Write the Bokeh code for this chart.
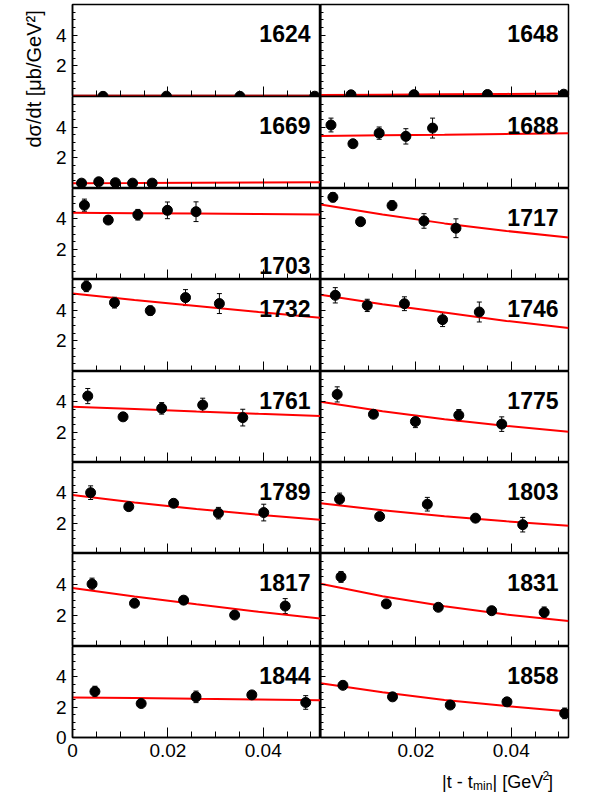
from bokeh.plotting import figure
from bokeh.layouts import row, column
from bokeh.models import (Range1d, FixedTicker, Whisker, TeeHead, ColumnDataSource,
                          Label, LinearAxis)
from bokeh.embed import file_html
from bokeh.resources import INLINE

# ---------------- data ----------------
energies_left = [1624, 1669, 1703, 1732, 1761, 1789, 1817, 1844]
energies_right = [1648, 1688, 1717, 1746, 1775, 1803, 1831, 1858]

fit_t = [0.0, 0.013, 0.026, 0.039, 0.052]

t_1624 = [0.0064, 0.0197, 0.0351, 0.0508]
y_1624 = [0.01, 0.02, 0.01, 0.02]
e_1624 = [0.02, 0.02, 0.02, 0.02]
fit_1624 = [0.05, 0.05, 0.05, 0.05, 0.05]

t_1648 = [0.0064, 0.0196, 0.0350, 0.0510]
y_1648 = [0.11, 0.12, 0.13, 0.15]
e_1648 = [0.02, 0.02, 0.02, 0.02]
fit_1648 = [0.10, 0.12, 0.15, 0.17, 0.20]

t_1669 = [0.0019, 0.0055, 0.0090, 0.0126, 0.0167]
y_1669 = [0.35, 0.44, 0.38, 0.35, 0.35]
e_1669 = [0.05, 0.05, 0.05, 0.05, 0.05]
fit_1669 = [0.35, 0.36, 0.38, 0.39, 0.41]

t_1688 = [0.0022, 0.0068, 0.0123, 0.0179, 0.0235]
y_1688 = [4.14, 2.92, 3.61, 3.40, 3.94]
e_1688 = [0.45, 0.20, 0.40, 0.50, 0.65]
fit_1688 = [3.42, 3.47, 3.51, 3.56, 3.61]

t_1703 = [0.0025, 0.0075, 0.0137, 0.0199, 0.0259]
y_1703 = [4.90, 3.92, 4.27, 4.56, 4.47]
e_1703 = [0.40, 0.25, 0.35, 0.55, 0.65]
fit_1703 = [4.40, 4.37, 4.35, 4.32, 4.29]

t_1717 = [0.0026, 0.0084, 0.0150, 0.0217, 0.0284]
y_1717 = [5.42, 3.81, 4.88, 3.86, 3.38]
e_1717 = [0.30, 0.25, 0.30, 0.48, 0.62]
fit_1717 = [4.95, 4.28, 3.70, 3.20, 2.77]

t_1732 = [0.0029, 0.0088, 0.0163, 0.0237, 0.0308]
y_1732 = [5.56, 4.49, 3.97, 4.82, 4.43]
e_1732 = [0.35, 0.35, 0.30, 0.52, 0.65]
fit_1732 = [5.08, 4.66, 4.27, 3.88, 3.51]

t_1746 = [0.0031, 0.0098, 0.0176, 0.0256, 0.0333]
y_1746 = [4.97, 4.31, 4.42, 3.38, 3.88]
e_1746 = [0.50, 0.40, 0.45, 0.45, 0.65]
fit_1746 = [5.01, 4.38, 3.85, 3.30, 2.83]

t_1761 = [0.0032, 0.0106, 0.0187, 0.0273, 0.0357]
y_1761 = [4.38, 3.01, 3.57, 3.79, 2.96]
e_1761 = [0.50, 0.20, 0.38, 0.45, 0.55]
fit_1761 = [3.68, 3.52, 3.36, 3.21, 3.07]

t_1775 = [0.0035, 0.0111, 0.0199, 0.0290, 0.0380]
y_1775 = [4.49, 3.18, 2.70, 3.12, 2.53]
e_1775 = [0.50, 0.20, 0.40, 0.37, 0.48]
fit_1775 = [4.01, 3.38, 2.85, 2.41, 2.03]

t_1789 = [0.0038, 0.0118, 0.0212, 0.0306, 0.0401]
y_1789 = [4.01, 3.09, 3.31, 2.66, 2.70]
e_1789 = [0.45, 0.20, 0.22, 0.38, 0.55]
fit_1789 = [3.86, 3.36, 2.93, 2.55, 2.22]

t_1803 = [0.0040, 0.0124, 0.0224, 0.0325, 0.0424]
y_1803 = [3.58, 2.44, 3.25, 2.33, 1.90]
e_1803 = [0.40, 0.20, 0.45, 0.20, 0.48]
fit_1803 = [3.31, 2.85, 2.46, 2.12, 1.83]

t_1817 = [0.0041, 0.0130, 0.0233, 0.0340, 0.0446]
y_1817 = [4.03, 2.79, 2.99, 2.03, 2.61]
e_1817 = [0.38, 0.20, 0.25, 0.20, 0.48]
fit_1817 = [3.77, 3.22, 2.72, 2.24, 1.81]

t_1831 = [0.0043, 0.0138, 0.0247, 0.0359, 0.0469]
y_1831 = [4.49, 2.75, 2.53, 2.31, 2.20]
e_1831 = [0.35, 0.20, 0.20, 0.20, 0.35]
fit_1831 = [4.05, 3.24, 2.59, 2.06, 1.65]

t_1844 = [0.0047, 0.0144, 0.0259, 0.0376, 0.0489]
y_1844 = [3.03, 2.24, 2.68, 2.81, 2.31]
e_1844 = [0.35, 0.20, 0.38, 0.20, 0.45]
fit_1844 = [2.64, 2.60, 2.55, 2.51, 2.46]

t_1858 = [0.0047, 0.0151, 0.0272, 0.0391, 0.0512]
y_1858 = [3.44, 2.68, 2.14, 2.35, 1.59]
e_1858 = [0.20, 0.20, 0.20, 0.20, 0.35]
fit_1858 = [3.58, 2.98, 2.48, 2.07, 1.72]

x_major_left = [0.0, 0.02, 0.04]
x_major_right = [0.02, 0.04]
x_minor = [0.005, 0.01, 0.015, 0.025, 0.03, 0.035, 0.045, 0.05]
y_major_bottom = [0.0, 2.0, 4.0]
y_major = [2.0, 4.0]
y_minor = [0.5, 1.0, 1.5, 2.5, 3.0, 3.5, 4.5, 5.0, 5.5]

y_title = "dσ/dt [μb/GeV²]"
x_title_parts = ["|t - t", "min", "| [GeV", "2", "]"]

panel_data = {
    1624: (t_1624, y_1624, e_1624, fit_1624), 1648: (t_1648, y_1648, e_1648, fit_1648),
    1669: (t_1669, y_1669, e_1669, fit_1669), 1688: (t_1688, y_1688, e_1688, fit_1688),
    1703: (t_1703, y_1703, e_1703, fit_1703), 1717: (t_1717, y_1717, e_1717, fit_1717),
    1732: (t_1732, y_1732, e_1732, fit_1732), 1746: (t_1746, y_1746, e_1746, fit_1746),
    1761: (t_1761, y_1761, e_1761, fit_1761), 1775: (t_1775, y_1775, e_1775, fit_1775),
    1789: (t_1789, y_1789, e_1789, fit_1789), 1803: (t_1803, y_1803, e_1803, fit_1803),
    1817: (t_1817, y_1817, e_1817, fit_1817), 1831: (t_1831, y_1831, e_1831, fit_1831),
    1844: (t_1844, y_1844, e_1844, fit_1844), 1858: (t_1858, y_1858, e_1858, fit_1858),
}

# ---------------- layout constants (pixels) ----------------
FONT = "Liberation Sans"
TITLE_W = 46
FRAME_W = 248
LEFT_B = 26
RIGHT_B = 29
TOP_B = 4
BOTTOM_B = 24
FRAME_HS = [92, 92, 91, 92, 91, 91, 93, 91]
GRID_H = TOP_B + sum(FRAME_HS) + BOTTOM_B
XT_H = 31
TOTAL_W = TITLE_W + LEFT_B + 2 * FRAME_W + RIGHT_B


def tick_only_axis(p, side, positions, length):
    ax = LinearAxis(ticker=FixedTicker(ticks=[], minor_ticks=positions),
                    axis_line_color="black", axis_line_width=1.5,
                    minor_tick_in=length, minor_tick_out=0,
                    major_tick_in=0, major_tick_out=0,
                    minor_tick_line_color="black", major_label_standoff=0)
    p.add_layout(ax, side)
    return ax


def make_panel(energy, left, top, bottom, frame_h):
    t, y, err, fit = panel_data[energy]
    bl = LEFT_B if left else 0
    br = 0 if left else RIGHT_B
    bb = BOTTOM_B if bottom else 0
    bt = TOP_B if top else 0
    p = figure(width=FRAME_W + bl + br, height=frame_h + bb + bt,
               x_range=Range1d(0, 0.052), y_range=Range1d(0, 6),
               output_backend="svg", toolbar_location=None,
               x_axis_location=None, y_axis_location=None,
               min_border_left=bl, min_border_right=br,
               min_border_top=bt, min_border_bottom=bb)
    p.grid.visible = False
    p.background_fill_color = "white"
    p.border_fill_color = "white"
    p.outline_line_color = "black"
    p.outline_line_width = 1.5

    # x axis (bottom of every panel, ticks inward)
    if bottom:
        xa = LinearAxis(ticker=FixedTicker(ticks=x_major_left if left else x_major_right,
                                           minor_ticks=x_minor),
                        axis_line_color="black", axis_line_width=1.5,
                        major_tick_in=10, major_tick_out=0, minor_tick_in=6, minor_tick_out=0,
                        major_tick_line_color="black", minor_tick_line_color="black",
                        major_label_text_font=FONT, major_label_text_font_size="19px",
                        major_label_text_color="black", major_label_standoff=6,
                        major_label_overrides={0.0: "0", 0.02: "0.02", 0.04: "0.04"})
        p.add_layout(xa, "below")
    else:
        tick_only_axis(p, "below", x_minor, 6)
        tick_only_axis(p, "below", x_major_right, 10)

    # y axis (left of every panel, ticks inward)
    if left:
        ya = LinearAxis(ticker=FixedTicker(ticks=y_major_bottom if bottom else y_major,
                                           minor_ticks=y_minor),
                        axis_line_color="black", axis_line_width=1.5,
                        major_tick_in=5, major_tick_out=0, minor_tick_in=3, minor_tick_out=0,
                        major_tick_line_color="black", minor_tick_line_color="black",
                        major_label_text_font=FONT, major_label_text_font_size="19px",
                        major_label_text_color="black", major_label_standoff=6,
                        major_label_overrides={0.0: "0", 2.0: "2", 4.0: "4"})
        p.add_layout(ya, "left")
    else:
        tick_only_axis(p, "left", y_minor, 3)
        tick_only_axis(p, "left", y_major, 5)

    p.line(fit_t, fit, line_color="#ff0000", line_width=2)
    lo = [a - b for a, b in zip(y, err)]
    hi = [a + b for a, b in zip(y, err)]
    src = ColumnDataSource(dict(t=t, y=y, lo=lo, hi=hi))
    p.add_layout(Whisker(base="t", upper="hi", lower="lo", source=src,
                         line_color="black", line_width=1,
                         upper_head=TeeHead(size=5, line_color="black", line_width=1),
                         lower_head=TeeHead(size=5, line_color="black", line_width=1)))
    p.scatter("t", "y", source=src, size=10, marker="circle",
              fill_color="black", line_color="black")

    label_kw = dict(x=0.052, x_offset=-10, text=str(energy), text_align="right",
                    text_baseline="alphabetic", text_font=FONT, text_font_style="bold",
                    text_font_size="23px", text_color="black")
    if energy == 1703:
        p.add_layout(Label(y=0, y_offset=14, **label_kw))
    else:
        p.add_layout(Label(y=6, y_offset=-29, **label_kw))
    return p


rows = []
n = len(energies_left)
for i, (el, er) in enumerate(zip(energies_left, energies_right)):
    top = i == 0
    bottom = i == n - 1
    rows.append(row(make_panel(el, True, top, bottom, FRAME_HS[i]),
                    make_panel(er, False, top, bottom, FRAME_HS[i])))
grid = column(*rows)

# y-axis title strip (pixel coordinates)
tf = figure(width=TITLE_W, height=GRID_H, x_range=Range1d(0, TITLE_W), y_range=Range1d(GRID_H, 0),
            output_backend="svg", toolbar_location=None,
            x_axis_location=None, y_axis_location=None,
            min_border_left=0, min_border_right=0, min_border_top=0, min_border_bottom=0)
tf.outline_line_color = None
tf.grid.visible = False
tf.add_layout(Label(x=33, y=147, text=y_title, angle=90, angle_units="deg",
                    text_align="left", text_baseline="alphabetic",
                    text_font=FONT, text_font_size="20px", text_color="black"))

# x-axis title strip (pixel coordinates, y measured from the page top)
xf = figure(width=TOTAL_W, height=XT_H, x_range=Range1d(0, TOTAL_W),
            y_range=Range1d(GRID_H + XT_H, GRID_H),
            output_backend="svg", toolbar_location=None,
            x_axis_location=None, y_axis_location=None,
            min_border_left=0, min_border_right=0, min_border_top=0, min_border_bottom=0)
xf.outline_line_color = None
xf.grid.visible = False
part_x = [441.5, 472.5, 492.0, 542.0, 547.5]
part_y = [781, 785, 781, 775, 781]
part_size = ["18px", "12px", "18px", "12px", "18px"]
for txt, px, py, fs in zip(x_title_parts, part_x, part_y, part_size):
    xf.add_layout(Label(x=px, y=py, text=txt, text_align="left", text_baseline="alphabetic",
                        text_font=FONT, text_font_size=fs, text_color="black"))

layout = column(row(tf, grid), xf)
open("out.html", "w").write(file_html(layout, INLINE))
